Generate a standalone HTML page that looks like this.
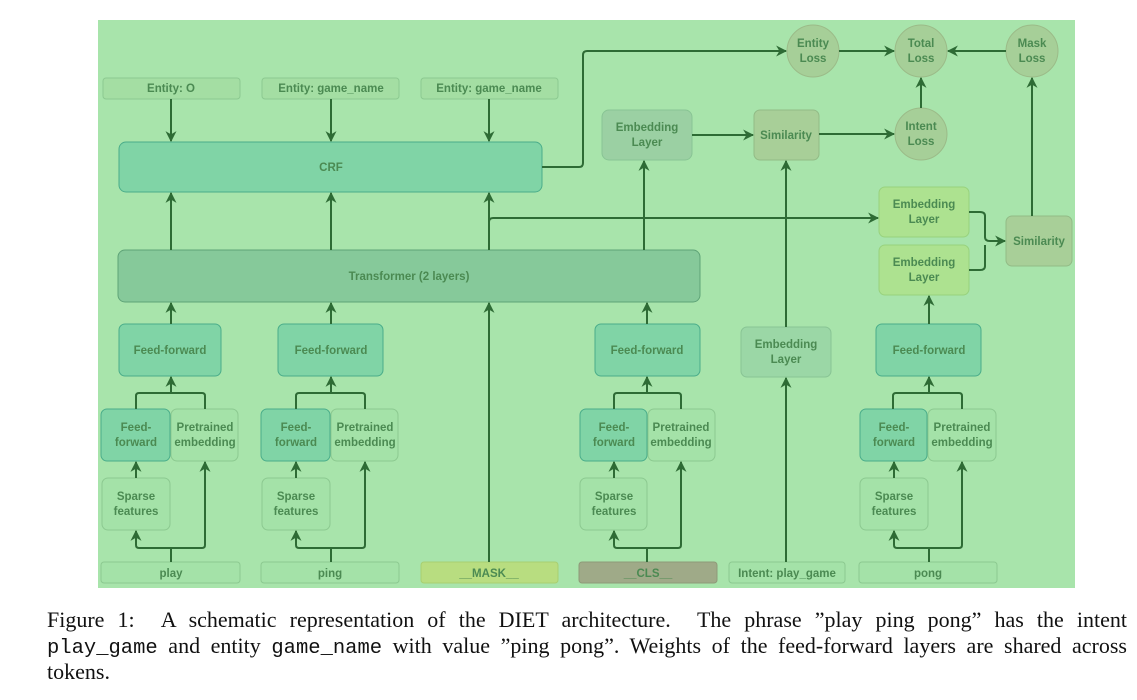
<!DOCTYPE html>
<html><head><meta charset="utf-8"><style>
body{margin:0;background:#fff;width:1137px;height:700px;overflow:hidden;position:relative}
svg{position:absolute;left:0;top:0}
svg text{font-family:"Liberation Sans",sans-serif;font-weight:bold;font-size:11.5px;fill:#4b8a52;text-anchor:middle}
.cap{position:absolute;left:47px;font-family:"Liberation Serif",serif;font-size:22px;color:#111;white-space:nowrap;line-height:26px}
.j{width:1080px;text-align:justify;text-align-last:justify}
.m{font-family:"Liberation Mono",monospace;font-size:20.5px}
</style></head><body>
<svg width="1137" height="600" viewBox="0 0 1137 600">
<defs><marker id="a" viewBox="0 0 10 10" refX="9" refY="5" markerWidth="5.5" markerHeight="5.5" orient="auto"><path d="M0,0L10,5L0,10L3,5z" fill="#2e6b35"/></marker></defs>
<rect x="98" y="20" width="977" height="568" fill="#a8e4ab"/>
<g stroke-width="1">
<rect x="103" y="78" width="137" height="21" rx="3" fill="#a4dea3" stroke="#8cc990"/>
<rect x="262" y="78" width="137" height="21" rx="3" fill="#a4dea3" stroke="#8cc990"/>
<rect x="421" y="78" width="137" height="21" rx="3" fill="#a4dea3" stroke="#8cc990"/>
<rect x="119" y="142" width="423" height="50" rx="7" fill="#80d4a6" stroke="#4aad8a"/>
<rect x="118" y="250" width="582" height="52" rx="7" fill="#86c99a" stroke="#5ea377"/>
<rect x="602" y="110" width="90" height="50" rx="7" fill="#9bd0a3" stroke="#88c494"/>
<rect x="754" y="110" width="65" height="50" rx="6" fill="#a8cf98" stroke="#92bb86"/>
<rect x="879" y="187" width="90" height="50" rx="6" fill="#ade290" stroke="#98d27d"/>
<rect x="879" y="245" width="90" height="50" rx="6" fill="#ade290" stroke="#98d27d"/>
<rect x="1006" y="216" width="66" height="50" rx="6" fill="#a8cf98" stroke="#92bb86"/>
<rect x="741" y="327" width="90" height="50" rx="6" fill="#9bd7a6" stroke="#88c494"/>
<circle cx="813" cy="51" r="26" fill="#a6cf98" stroke="#9bbb88"/>
<circle cx="921" cy="51" r="26" fill="#a6cf98" stroke="#9bbb88"/>
<circle cx="1032" cy="51" r="26" fill="#a6cf98" stroke="#9bbb88"/>
<circle cx="921" cy="134" r="26" fill="#a6cf98" stroke="#9bbb88"/>
<rect x="119" y="324" width="102" height="52" rx="6" fill="#80d4a6" stroke="#4aad8a"/>
<rect x="278" y="324" width="105" height="52" rx="6" fill="#80d4a6" stroke="#4aad8a"/>
<rect x="595" y="324" width="105" height="52" rx="6" fill="#80d4a6" stroke="#4aad8a"/>
<rect x="876" y="324" width="105" height="52" rx="6" fill="#80d4a6" stroke="#4aad8a"/>
<g fill="#80d4a6" stroke="#4aad8a"><rect x="101" y="409" width="69" height="52" rx="6"/><rect x="261" y="409" width="69" height="52" rx="6"/><rect x="580" y="409" width="67" height="52" rx="6"/><rect x="860" y="409" width="67" height="52" rx="6"/></g>
<g fill="#a4e2a8" stroke="#8cc990"><rect x="171" y="409" width="67" height="52" rx="6"/><rect x="331" y="409" width="67" height="52" rx="6"/><rect x="648" y="409" width="67" height="52" rx="6"/><rect x="928" y="409" width="68" height="52" rx="6"/>
<rect x="102" y="478" width="68" height="52" rx="6"/><rect x="262" y="478" width="68" height="52" rx="6"/><rect x="580" y="478" width="67" height="52" rx="6"/><rect x="860" y="478" width="68" height="52" rx="6"/>
<rect x="101" y="562" width="139" height="21" rx="3"/><rect x="261" y="562" width="138" height="21" rx="3"/><rect x="729" y="562" width="116" height="21" rx="3"/><rect x="859" y="562" width="138" height="21" rx="3"/></g>
<rect x="421" y="562" width="137" height="21" rx="3" fill="#b8dd80" stroke="#a8cf70"/>
<rect x="579" y="562" width="138" height="21" rx="3" fill="#9faa88" stroke="#8e9a78"/>
</g>
<g stroke="#2e6b35" stroke-width="2" fill="none" marker-end="url(#a)">
<path d="M171 99V141"/><path d="M331 99V141"/><path d="M489 99V141"/>
<path d="M171 250V193"/><path d="M331 250V193"/><path d="M489 250V193"/>
<path d="M542 167H579Q583 167 583 163V55Q583 51 587 51H786"/>
<path d="M839 51H894"/><path d="M1006 51H948"/><path d="M921 108V78"/><path d="M1032 216V78"/>
<path d="M692 135H753"/><path d="M819 134H894"/>
<path d="M489 230V222Q489 218 493 218H878"/>
<path d="M969 212H980Q985 212 985 216V237Q985 241 990 241H1005"/>
<path d="M969 270H980Q985 270 985 266V245" marker-end="none"/>
<path d="M644 250V161"/><path d="M786 327V161"/><path d="M786 562V378"/>
<path d="M171 324V303"/><path d="M331 324V303"/><path d="M647 324V303"/><path d="M489 562V303"/>
<path d="M929 324V296"/>
</g>
<g stroke="#2e6b35" stroke-width="2" fill="none">
<path d="M136 409V396Q136 393 139 393H202Q205 393 205 396V409"/><path d="M296 409V396Q296 393 299 393H362Q365 393 365 396V409"/>
<path d="M614 409V396Q614 393 617 393H678Q681 393 681 396V409"/><path d="M893 409V396Q893 393 896 393H959Q962 393 962 396V409"/>
<path d="M171 562V548"/><path d="M331 562V548"/><path d="M647 562V548"/><path d="M929 562V548"/>
</g>
<g stroke="#2e6b35" stroke-width="2" fill="none" marker-end="url(#a)">
<path d="M171 393V377"/><path d="M331 393V377"/><path d="M647 393V377"/><path d="M929 393V377"/>
<path d="M136 478V462"/><path d="M296 478V462"/><path d="M614 478V462"/><path d="M894 478V462"/>
<path d="M171 548H139Q136 548 136 545V531"/><path d="M171 548H202Q205 548 205 545V462"/>
<path d="M331 548H299Q296 548 296 545V531"/><path d="M331 548H362Q365 548 365 545V462"/>
<path d="M647 548H617Q614 548 614 545V531"/><path d="M647 548H678Q681 548 681 545V462"/>
<path d="M929 548H897Q894 548 894 545V531"/><path d="M929 548H959Q962 548 962 545V462"/>
</g>
<text x="171" y="92">Entity: O</text><text x="331" y="92">Entity: game_name</text><text x="489" y="92">Entity: game_name</text>
<text x="331" y="171">CRF</text><text x="409" y="280">Transformer (2 layers)</text>
<text x="647" y="131">Embedding</text><text x="647" y="146">Layer</text>
<text x="786" y="139">Similarity</text>
<text x="924" y="208">Embedding</text><text x="924" y="223">Layer</text>
<text x="924" y="266">Embedding</text><text x="924" y="281">Layer</text>
<text x="1039" y="245">Similarity</text>
<text x="786" y="348">Embedding</text><text x="786" y="363">Layer</text>
<text x="813" y="47">Entity</text><text x="813" y="62">Loss</text>
<text x="921" y="47">Total</text><text x="921" y="62">Loss</text>
<text x="1032" y="47">Mask</text><text x="1032" y="62">Loss</text>
<text x="921" y="130">Intent</text><text x="921" y="145">Loss</text>
<text x="170" y="354">Feed-forward</text><text x="331" y="354">Feed-forward</text><text x="647" y="354">Feed-forward</text><text x="929" y="354">Feed-forward</text>
<g><text x="136" y="431">Feed-</text><text x="136" y="446">forward</text><text x="205" y="431">Pretrained</text><text x="205" y="446">embedding</text><text x="136" y="500">Sparse</text><text x="136" y="515">features</text>
<text x="296" y="431">Feed-</text><text x="296" y="446">forward</text><text x="365" y="431">Pretrained</text><text x="365" y="446">embedding</text><text x="296" y="500">Sparse</text><text x="296" y="515">features</text>
<text x="614" y="431">Feed-</text><text x="614" y="446">forward</text><text x="681" y="431">Pretrained</text><text x="681" y="446">embedding</text><text x="614" y="500">Sparse</text><text x="614" y="515">features</text>
<text x="894" y="431">Feed-</text><text x="894" y="446">forward</text><text x="962" y="431">Pretrained</text><text x="962" y="446">embedding</text><text x="894" y="500">Sparse</text><text x="894" y="515">features</text></g>
<text x="171" y="577">play</text><text x="330" y="577">ping</text><text x="489" y="577">__MASK__</text><text x="648" y="577">__CLS__</text><text x="787" y="577">Intent: play_game</text><text x="928" y="577">pong</text>
</svg>
<div class="cap j" style="top:607px">Figure 1: &nbsp;A schematic representation of the DIET architecture. &nbsp;The phrase ”play ping pong” has the intent</div>
<div class="cap j" style="top:633px"><span class="m">play_game</span> and entity <span class="m">game_name</span> with value ”ping pong”. Weights of the feed-forward layers are shared across</div>
<div class="cap" style="top:659px">tokens.</div>
</body></html>
